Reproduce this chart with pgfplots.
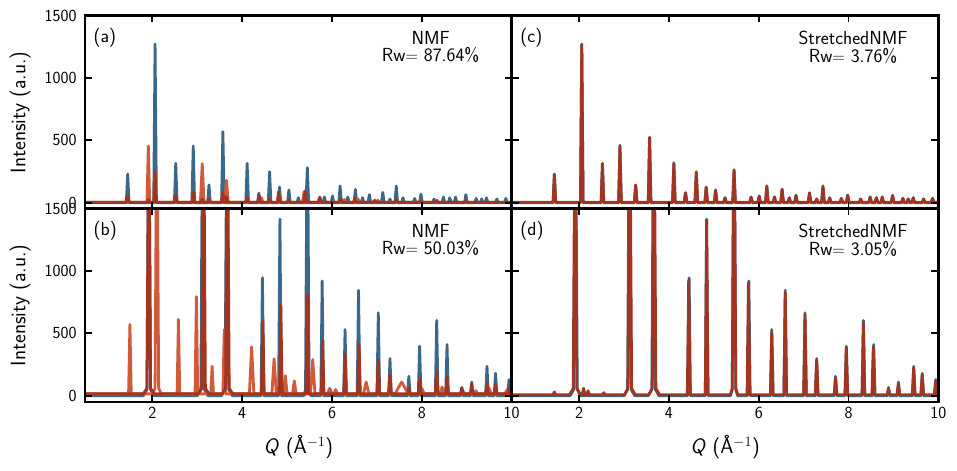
\documentclass[border=0pt]{standalone}
\usepackage{fontspec}
\usepackage{pgfplots}
\pgfplotsset{compat=1.18}
\renewcommand{\familydefault}{\sfdefault}
\definecolor{cblue}{RGB}{58,104,138}
\definecolor{corange}{RGB}{208,90,58}
\definecolor{cdark}{RGB}{163,52,31}
\pgfplotsset{
 panel/.style={
  width=426.7bp, height=193.5bp, scale only axis,
  anchor=south west,
  xmin=0.5, xmax=10, ymin=-50, ymax=1500,
  xtick={2,4,6,8,10}, ytick={0,500,1000,1500},
  tick align=inside, major tick length=7bp,
  every tick/.style={black, line width=1.8bp},
  axis line style={line width=2.8bp},
  axis on top,
  ticklabel style={font=\fontsize{17}{18}\selectfont},
  yticklabel style={xshift=-5bp},
  xticklabel style={yshift=-2bp},
  /pgf/number format/assume math mode=true,
  /pgf/number format/1000 sep={},
  every axis plot/.append style={line width=2.8bp, line join=round, mark=none},
  label style={font=\fontsize{21}{22}\selectfont},
  ylabel style={at={(axis description cs:-0.152,0.5)}, anchor=center},
  xlabel style={at={(axis description cs:0.5,-0.233)}, anchor=center},
 },
}
\tikzset{
 tag/.style={anchor=north west, font=\fontsize{19}{19}\selectfont, inner sep=0pt},
 note/.style={anchor=north, align=center, font=\fontsize{19}{17.5}\selectfont, inner sep=0pt},
}
\begin{document}
\begin{tikzpicture}
\useasboundingbox (0,0) rectangle (957bp,471bp);
% ---------------- panel (a)
\begin{axis}[panel, at={(85bp,262bp)}, xticklabels={}, ylabel={Intensity (a.u.)}]
\addplot[cblue] coordinates {(0.5,0) (1.42,0) (1.45,230) (1.48,0) (2.03,0) (2.06,1272) (2.09,0) (2.49,0) (2.52,316) (2.55,0) (2.88,0) (2.91,455) (2.94,0) (3.23,0) (3.26,143) (3.29,0) (3.54,0) (3.57,570) (3.60,0) (4.08,0) (4.11,316) (4.14,0) (4.34,0) (4.37,78) (4.40,0) (4.58,0) (4.61,249) (4.64,0) (4.80,0) (4.83,126) (4.86,0) (5.01,0) (5.04,102) (5.07,0) (5.22,0) (5.25,40) (5.28,0) (5.42,0) (5.45,281) (5.48,0) (5.80,0) (5.83,46) (5.86,0) (5.98,0) (6.01,55) (6.04,0) (6.15,0) (6.18,134) (6.21,0) (6.32,0) (6.35,46) (6.38,0) (6.49,0) (6.52,107) (6.55,0) (6.65,0) (6.68,40) (6.71,0) (6.80,0) (6.83,65) (6.86,0) (7.10,0) (7.13,83) (7.16,0) (7.26,0) (7.29,30) (7.32,0) (7.40,0) (7.43,134) (7.46,0) (7.55,0) (7.58,40) (7.61,0) (7.81,0) (7.84,35) (7.87,0) (7.95,0) (7.98,70) (8.01,0) (8.24,0) (8.27,30) (8.30,0) (8.45,0) (8.48,46) (8.51,0) (8.59,0) (8.62,40) (8.65,0) (8.72,0) (8.75,46) (8.78,0) (8.95,0) (8.98,65) (9.01,0) (9.18,0) (9.21,35) (9.24,0) (9.30,0) (9.33,30) (9.36,0) (9.41,0) (9.44,40) (9.47,0) (9.64,0) (9.67,30) (9.70,0) (9.84,0) (9.87,35) (9.90,0) (10,0)};
\addplot[corange] coordinates {(0.5,3) (1.88,3) (1.91,455) (1.94,3) (3.07,3) (3.11,313) (3.15,3) (3.61,3) (3.65,180) (3.69,3) (4.40,3) (4.43,40) (4.46,3) (4.79,3) (4.82,60) (4.85,3) (5.34,3) (5.38,90) (5.42,3) (5.69,3) (5.72,40) (5.75,3) (6.25,3) (6.28,25) (6.31,3) (6.55,3) (6.58,30) (6.61,3) (6.99,3) (7.02,20) (7.05,3) (7.92,3) (7.95,15) (7.98,3) (8.30,3) (8.33,20) (8.36,3) (10,3)};
\addplot[cdark] coordinates {(0.5,3) (1.42,3) (1.45,60) (1.48,3) (1.88,3) (1.91,25) (1.94,3) (2.03,3) (2.06,249) (2.09,3) (2.49,3) (2.52,62) (2.55,3) (2.88,3) (2.91,86) (2.94,3) (3.08,3) (3.11,30) (3.14,3) (3.23,3) (3.26,30) (3.29,3) (3.54,3) (3.57,86) (3.60,3) (3.62,3) (3.65,50) (3.68,3) (4.08,3) (4.11,45) (4.14,3) (4.35,3) (4.38,55) (4.41,3) (4.58,3) (4.61,30) (4.64,3) (4.78,3) (4.81,86) (4.84,3) (5.01,3) (5.04,20) (5.07,3) (5.37,3) (5.40,94) (5.43,3) (5.70,3) (5.73,45) (5.76,3) (6.17,3) (6.20,30) (6.23,3) (6.48,3) (6.51,40) (6.54,3) (6.92,3) (6.95,20) (6.98,3) (7.40,3) (7.43,25) (7.46,3) (7.95,3) (7.98,15) (8.01,3) (8.30,3) (8.33,15) (8.36,3) (8.95,3) (8.98,15) (9.01,3) (10,3)};
\node[tag] at (rel axis cs:0.02,0.935) {(a)};
\node[note] at (rel axis cs:0.81,0.92) {NMF\\Rw$=$ 87.64\%};
\end{axis}
% ---------------- panel (c)
\begin{axis}[panel, at={(511.7bp,262bp)}, xticklabels={}, yticklabels={}]
\addplot[cblue] coordinates {(0.5,0) (1.42,0) (1.45,230) (1.48,0) (2.03,0) (2.06,1272) (2.09,0) (2.49,0) (2.52,316) (2.55,0) (2.88,0) (2.91,460) (2.94,0) (3.23,0) (3.26,143) (3.29,0) (3.54,0) (3.57,525) (3.60,0) (4.08,0) (4.11,320) (4.14,0) (4.34,0) (4.37,80) (4.40,0) (4.58,0) (4.61,249) (4.64,0) (4.80,0) (4.83,126) (4.86,0) (5.01,0) (5.04,102) (5.07,0) (5.22,0) (5.25,40) (5.28,0) (5.42,0) (5.45,265) (5.48,0) (5.80,0) (5.83,46) (5.86,0) (5.98,0) (6.01,55) (6.04,0) (6.15,0) (6.18,136) (6.21,0) (6.32,0) (6.35,46) (6.38,0) (6.49,0) (6.52,110) (6.55,0) (6.65,0) (6.68,40) (6.71,0) (6.80,0) (6.83,60) (6.86,0) (7.10,0) (7.13,80) (7.16,0) (7.26,0) (7.29,30) (7.32,0) (7.40,0) (7.43,136) (7.46,0) (7.55,0) (7.58,40) (7.61,0) (7.81,0) (7.84,35) (7.87,0) (7.95,0) (7.98,62) (8.01,0) (8.24,0) (8.27,30) (8.30,0) (8.45,0) (8.48,46) (8.51,0) (8.59,0) (8.62,40) (8.65,0) (8.72,0) (8.75,46) (8.78,0) (8.95,0) (8.98,60) (9.01,0) (9.18,0) (9.21,35) (9.24,0) (9.30,0) (9.33,30) (9.36,0) (9.41,0) (9.44,40) (9.47,0) (9.64,0) (9.67,30) (9.70,0) (9.84,0) (9.87,35) (9.90,0) (10,0)};
\addplot[cdark] coordinates {(0.5,3) (1.42,3) (1.45,225) (1.48,3) (2.03,3) (2.06,1268) (2.09,3) (2.49,3) (2.52,313) (2.55,3) (2.88,3) (2.91,455) (2.94,3) (3.23,3) (3.26,140) (3.29,3) (3.54,3) (3.57,522) (3.60,3) (4.08,3) (4.11,310) (4.14,3) (4.34,3) (4.37,80) (4.40,3) (4.58,3) (4.61,244) (4.64,3) (4.80,3) (4.83,124) (4.86,3) (5.01,3) (5.04,100) (5.07,3) (5.22,3) (5.25,40) (5.28,3) (5.42,3) (5.45,262) (5.48,3) (5.80,3) (5.83,46) (5.86,3) (5.98,3) (6.01,52) (6.04,3) (6.15,3) (6.18,128) (6.21,3) (6.32,3) (6.35,46) (6.38,3) (6.49,3) (6.52,107) (6.55,3) (6.65,3) (6.68,40) (6.71,3) (6.80,3) (6.83,58) (6.86,3) (7.10,3) (7.13,78) (7.16,3) (7.26,3) (7.29,30) (7.32,3) (7.40,3) (7.43,128) (7.46,3) (7.55,3) (7.58,40) (7.61,3) (7.81,3) (7.84,35) (7.87,3) (7.95,3) (7.98,60) (8.01,3) (8.24,3) (8.27,30) (8.30,3) (8.45,3) (8.48,46) (8.51,3) (8.59,3) (8.62,40) (8.65,3) (8.72,3) (8.75,46) (8.78,3) (8.95,3) (8.98,58) (9.01,3) (9.18,3) (9.21,35) (9.24,3) (9.30,3) (9.33,30) (9.36,3) (9.41,3) (9.44,40) (9.47,3) (9.64,3) (9.67,30) (9.70,3) (9.84,3) (9.87,35) (9.90,3) (10,3)};
\node[tag] at (rel axis cs:0.02,0.935) {(c)};
\node[note] at (rel axis cs:0.80,0.92) {StretchedNMF\\Rw$=$ 3.76\%};
\end{axis}
% ---------------- panel (b)
\begin{axis}[panel, at={(85bp,69bp)}, ylabel={Intensity (a.u.)}, xlabel={\textit{Q} (Å$^{-1}$)}]
\addplot[cblue] coordinates {(0.5,0) (1.80,0) (1.88,50) (1.92,2500) (1.96,50) (2.04,0) (3.00,0) (3.08,50) (3.12,2500) (3.16,50) (3.24,0) (3.54,0) (3.62,50) (3.66,2500) (3.70,50) (3.78,0) (4.42,0) (4.45,945) (4.48,0) (4.81,0) (4.84,1415) (4.87,0) (5.37,0) (5.41,50) (5.45,2500) (5.49,50) (5.53,0) (5.75,0) (5.78,920) (5.81,0) (6.26,0) (6.29,530) (6.32,0) (6.56,0) (6.59,845) (6.62,0) (7.00,0) (7.03,665) (7.06,0) (7.26,0) (7.29,298) (7.32,0) (7.68,0) (7.71,156) (7.74,0) (7.92,0) (7.95,397) (7.98,0) (8.30,0) (8.33,604) (8.36,0) (8.53,0) (8.56,411) (8.59,0) (8.86,0) (8.89,67) (8.92,0) (9.08,0) (9.11,110) (9.14,0) (9.42,0) (9.45,236) (9.48,0) (9.61,0) (9.64,180) (9.67,0) (9.91,0) (9.94,130) (9.97,0) (10,0)};
\addplot[corange] coordinates {(0.5,15) (1.47,15) (1.50,572) (1.53,15) (2.00,15) (2.06,60) (2.10,2500) (2.14,60) (2.20,15) (2.55,15) (2.58,612) (2.61,15) (2.95,15) (2.98,793) (3.01,15) (3.30,15) (3.33,236) (3.36,15) (3.57,15) (3.60,530) (3.63,15) (4.16,15) (4.21,392) (4.26,15) (4.66,15) (4.71,296) (4.76,15) (4.92,15) (4.96,160) (5.00,15) (5.12,15) (5.16,120) (5.20,15) (5.52,15) (5.57,290) (5.62,15) (5.90,15) (5.95,60) (6.00,15) (6.04,15) (6.08,50) (6.12,15) (6.70,15) (6.76,110) (6.82,15) (7.40,15) (7.55,110) (7.70,15) (7.95,15) (8.00,60) (8.05,15) (8.40,15) (8.45,70) (8.50,15) (8.85,15) (8.90,50) (8.95,15) (9.15,15) (9.20,40) (9.25,15) (9.45,15) (9.50,60) (9.55,15) (9.85,15) (9.90,50) (9.95,15) (10,15)};
\addplot[cdark] coordinates {(0.5,15) (1.80,15) (1.88,60) (1.92,2500) (1.96,60) (2.04,15) (3.02,15) (3.10,60) (3.14,2500) (3.18,60) (3.26,15) (3.55,15) (3.63,60) (3.67,2500) (3.71,60) (3.79,15) (4.43,15) (4.46,600) (4.49,15) (4.83,15) (4.86,725) (4.89,15) (5.42,15) (5.45,808) (5.48,15) (5.76,15) (5.79,443) (5.82,15) (6.26,15) (6.29,330) (6.32,15) (6.57,15) (6.60,410) (6.63,15) (7.00,15) (7.03,290) (7.06,15) (7.26,15) (7.29,170) (7.32,15) (7.68,15) (7.71,60) (7.74,15) (7.92,15) (7.95,135) (7.98,15) (8.30,15) (8.33,200) (8.36,15) (8.53,15) (8.56,150) (8.59,15) (8.86,15) (8.89,60) (8.92,15) (9.08,15) (9.11,90) (9.14,15) (9.42,15) (9.45,100) (9.48,15) (9.61,15) (9.64,90) (9.67,15) (9.91,15) (9.94,60) (9.97,15) (10,15)};
\node[tag] at (rel axis cs:0.02,0.935) {(b)};
\node[note] at (rel axis cs:0.81,0.92) {NMF\\Rw$=$ 50.03\%};
\end{axis}
% ---------------- panel (d)
\begin{axis}[panel, at={(511.7bp,69bp)}, yticklabels={}, xlabel={\textit{Q} (Å$^{-1}$)}]
\addplot[cblue] coordinates {(0.5,0) (1.80,0) (1.88,50) (1.92,2500) (1.96,50) (2.04,0) (3.00,0) (3.08,50) (3.12,2500) (3.16,50) (3.24,0) (3.54,0) (3.62,50) (3.66,2500) (3.70,50) (3.78,0) (4.42,0) (4.45,945) (4.48,0) (4.81,0) (4.84,1415) (4.87,0) (5.37,0) (5.41,50) (5.45,2500) (5.49,50) (5.53,0) (5.75,0) (5.78,920) (5.81,0) (6.26,0) (6.29,530) (6.32,0) (6.56,0) (6.59,845) (6.62,0) (7.00,0) (7.03,665) (7.06,0) (7.26,0) (7.29,298) (7.32,0) (7.68,0) (7.71,156) (7.74,0) (7.92,0) (7.95,397) (7.98,0) (8.30,0) (8.33,604) (8.36,0) (8.53,0) (8.56,411) (8.59,0) (8.86,0) (8.89,67) (8.92,0) (9.08,0) (9.11,110) (9.14,0) (9.42,0) (9.45,236) (9.48,0) (9.61,0) (9.64,180) (9.67,0) (9.91,0) (9.94,130) (9.97,0) (10,0)};
\addplot[cdark] coordinates {(0.5,8) (1.42,8) (1.45,30) (1.48,8) (1.79,8) (1.87,60) (1.91,2500) (1.95,60) (2.03,8) (2.07,8) (2.10,60) (2.13,8) (2.17,8) (2.20,40) (2.23,8) (2.52,8) (2.55,25) (2.58,8) (3.01,8) (3.09,60) (3.13,2500) (3.17,60) (3.25,8) (3.55,8) (3.63,60) (3.67,2500) (3.71,60) (3.79,8) (4.41,8) (4.44,925) (4.47,8) (4.81,8) (4.84,1405) (4.87,8) (5.37,8) (5.41,60) (5.45,2500) (5.49,60) (5.53,8) (5.74,8) (5.77,905) (5.80,8) (6.26,8) (6.29,515) (6.32,8) (6.56,8) (6.59,825) (6.62,8) (7.00,8) (7.03,650) (7.06,8) (7.26,8) (7.29,285) (7.32,8) (7.68,8) (7.71,142) (7.74,8) (7.92,8) (7.95,384) (7.98,8) (8.30,8) (8.33,585) (8.36,8) (8.52,8) (8.55,392) (8.58,8) (8.86,8) (8.89,53) (8.92,8) (9.08,8) (9.11,90) (9.14,8) (9.42,8) (9.45,222) (9.48,8) (9.61,8) (9.64,169) (9.67,8) (9.91,8) (9.94,118) (9.97,8) (10,8)};
\node[tag] at (rel axis cs:0.02,0.935) {(d)};
\node[note] at (rel axis cs:0.80,0.92) {StretchedNMF\\Rw$=$ 3.05\%};
\end{axis}
\end{tikzpicture}
\end{document}
